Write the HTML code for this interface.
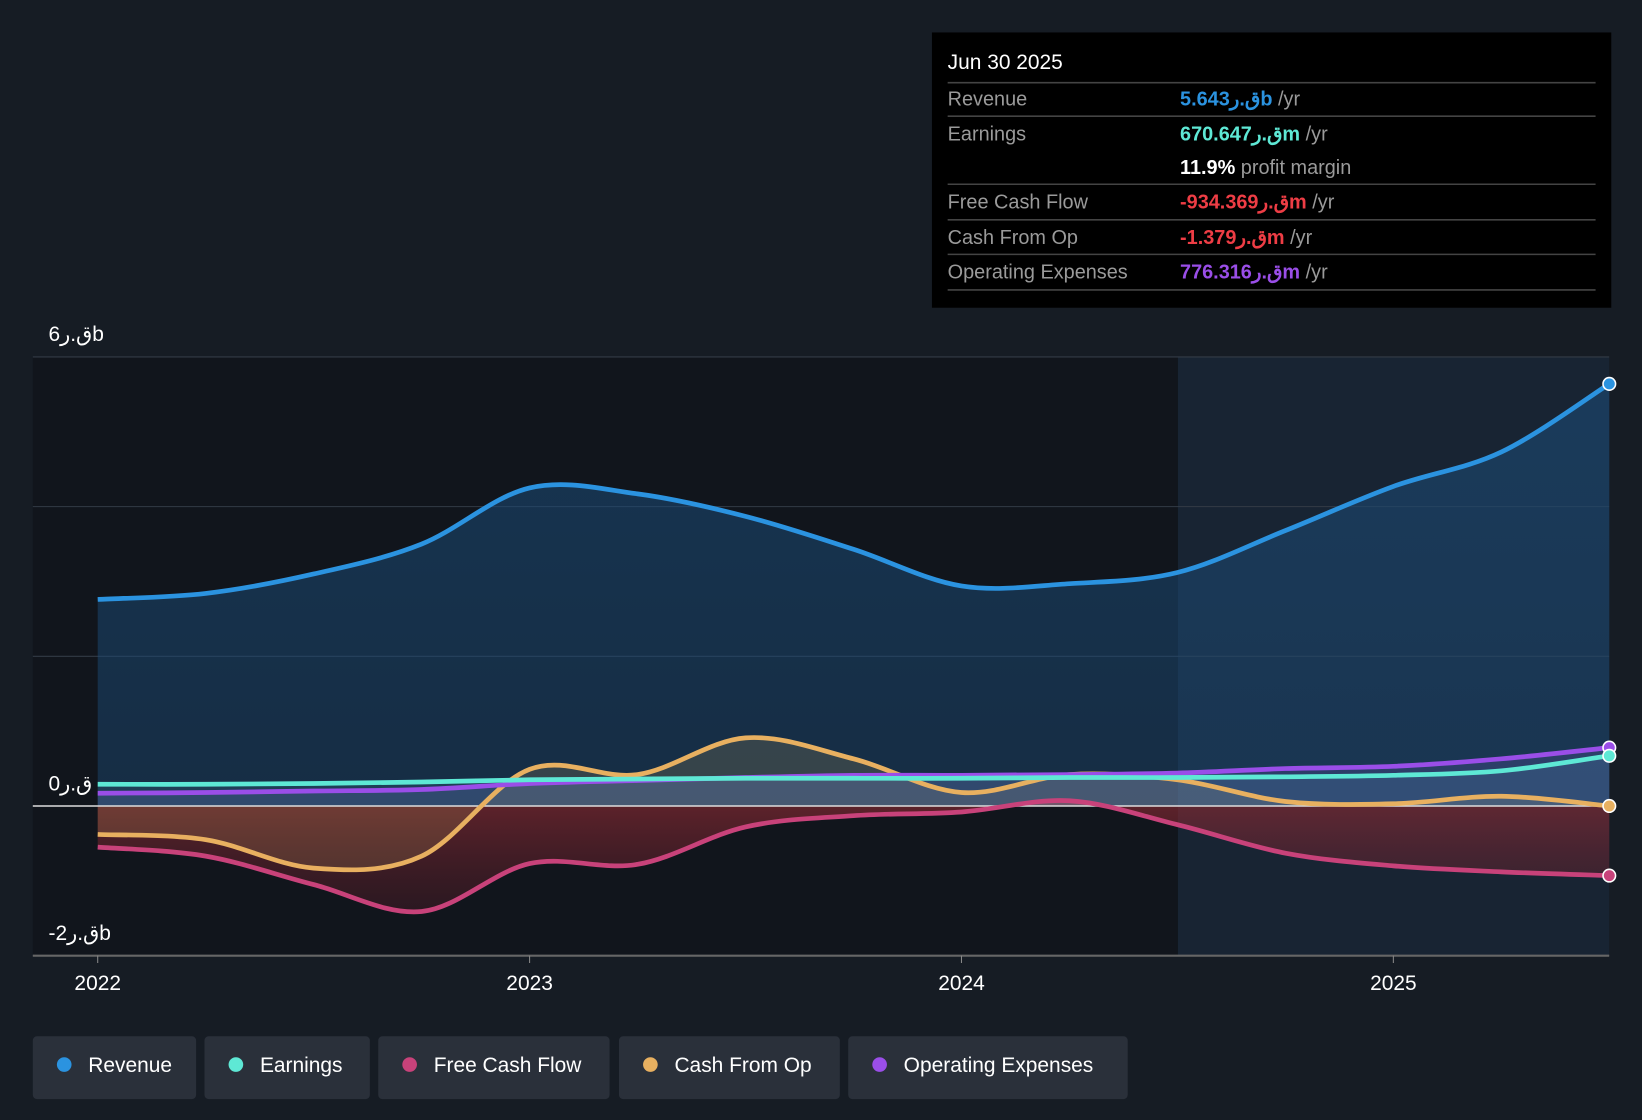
<!DOCTYPE html>
<html><head><meta charset="utf-8"><style>
html,body{margin:0;padding:0;background:#161c24;}
svg{display:block;font-family:"Liberation Sans","Noto Sans CJK SC",sans-serif;}
</style></head><body>
<svg id="c" width="1642" height="1120" viewBox="0 0 1568 1070">
<defs>
<linearGradient id="revg" x1="0" y1="0" x2="0" y2="1"><stop offset="0" stop-color="#1b4a75" stop-opacity="0.6"/><stop offset="1" stop-color="#1b4a75" stop-opacity="0.45"/></linearGradient>
<linearGradient id="negg" x1="0" y1="0" x2="0" y2="1"><stop offset="0" stop-color="#8a2a33" stop-opacity="0.65"/><stop offset="1" stop-color="#5a1e2a" stop-opacity="0.35"/></linearGradient>
</defs>
<rect width="1568" height="1070" fill="#161c24"/>
<rect x="31" y="341" width="1094" height="572" fill="#11151c"/>
<rect x="1125" y="341" width="412" height="572" fill="#182433"/>
<g id="grid"></g>
<g id="areas"></g>
<g id="lines"></g>
<g id="axes"></g>
<g>
<rect x="890" y="31" width="649" height="263" fill="#000"/>
<text x="905" y="66" fill="#fff" font-size="20">Jun 30 2025</text>
<g stroke="#444" stroke-width="1.5">
<line x1="905" y1="79" x2="1524" y2="79"/><line x1="905" y1="111" x2="1524" y2="111"/><line x1="905" y1="176" x2="1524" y2="176"/><line x1="905" y1="210" x2="1524" y2="210"/><line x1="905" y1="243" x2="1524" y2="243"/><line x1="905" y1="277" x2="1524" y2="277"/></g>
<g font-size="19" fill="#9a9a9a">
<text x="905" y="101">Revenue</text><text x="905" y="134">Earnings</text><text x="905" y="199">Free Cash Flow</text><text x="905" y="233">Cash From Op</text><text x="905" y="266">Operating Expenses</text>
<text x="1127" y="101"><tspan fill="#2b93e0" font-weight="bold">5.643ق.رb</tspan> /yr</text>
<text x="1127" y="134"><tspan fill="#5ee8d5" font-weight="bold">670.647ق.رm</tspan> /yr</text>
<text x="1127" y="166"><tspan fill="#fff" font-weight="bold">11.9%</tspan> profit margin</text>
<text x="1127" y="199"><tspan fill="#ee3d45" font-weight="bold">-934.369ق.رm</tspan> /yr</text>
<text x="1127" y="233"><tspan fill="#ee3d45" font-weight="bold">-1.379ق.رm</tspan> /yr</text>
<text x="1127" y="266"><tspan fill="#9a4ee8" font-weight="bold">776.316ق.رm</tspan> /yr</text>
</g></g>
<g id="legend" font-size="20" fill="#fff"></g>
</svg>
<script>
const times=[2022,2022.25,2022.5,2022.75,2023,2023.25,2023.5,2023.75,2024,2024.25,2024.5,2024.75,2025,2025.25,2025.5];
const revenue=[2.76,2.84,3.1,3.5,4.25,4.17,3.87,3.43,2.94,2.97,3.12,3.68,4.27,4.73,5.64];
const earnings=[0.29,0.29,0.3,0.32,0.35,0.36,0.37,0.37,0.37,0.38,0.38,0.39,0.41,0.47,0.67];
const fcf=[-0.55,-0.67,-1.05,-1.41,-0.77,-0.78,-0.28,-0.13,-0.08,0.07,-0.25,-0.63,-0.8,-0.88,-0.93];
const cfo=[-0.38,-0.45,-0.83,-0.67,0.49,0.42,0.91,0.63,0.18,0.42,0.35,0.06,0.03,0.13,0.0];
const opex=[0.17,0.18,0.2,0.22,0.3,0.34,0.38,0.41,0.41,0.42,0.44,0.5,0.53,0.63,0.78];
const yTicks=[6,4,2,0,-2];
const yLabels={"6":"6ق.رb","0":"0ق.ر","-2":"-2ق.رb"};
const xTicks=[2022,2023,2024,2025];
const X=t=>93+(t-2022)*412.6;
const Y=v=>770-v*71.5;
const NS="http://www.w3.org/2000/svg";
function el(tag,attrs,parent){const e=document.createElementNS(NS,tag);for(const k in attrs)e.setAttribute(k,attrs[k]);parent.appendChild(e);return e;}
function path(vals){const p=vals.map((v,i)=>[X(times[i]),Y(v)]);let d="M"+p[0][0]+","+p[0][1];
for(let i=0;i<p.length-1;i++){const p0=p[Math.max(0,i-1)],p1=p[i],p2=p[i+1],p3=p[Math.min(p.length-1,i+2)];
const c1x=p1[0]+(p2[0]-p0[0])/6,c1y=p1[1]+(p2[1]-p0[1])/6,c2x=p2[0]-(p3[0]-p1[0])/6,c2y=p2[1]-(p3[1]-p1[1])/6;
d+=" C"+c1x+","+c1y+" "+c2x+","+c2y+" "+p2[0]+","+p2[1];}return d;}
const grid=document.getElementById('grid'),areas=document.getElementById('areas'),lines=document.getElementById('lines'),axes=document.getElementById('axes');
yTicks.forEach(v=>{const g=el('line',{x1:31,x2:1537,y1:Y(v),y2:Y(v),stroke:v===0?'#ddd':'#333b46','stroke-width':v===0?1.5:1},v===0?lines:grid);


const lab=yLabels[String(v)];
if(lab!==undefined){const t=el('text',{x:46,y:Y(v)-15,fill:'#fff','font-size':20},axes);t.textContent=lab;

}});
el('line',{x1:31,x2:1537,y1:913,y2:913,stroke:'#666','stroke-width':2},axes);
xTicks.forEach(t=>{el('line',{x1:X(t),x2:X(t),y1:913,y2:920,stroke:'#888'},axes);
const tx=el('text',{x:X(t),y:946,fill:'#fff','font-size':20,'text-anchor':'middle'},axes);tx.textContent=t;

});
const x0=X(times[0]),x1=X(times[times.length-1]),z=Y(0);
const series=[
{n:'revenue',v:revenue,c:'#2b93e0',fill:'url(#revg)'},
{n:'free-cash-flow',v:fcf,c:'#c8427a',fill:'url(#negg)'},
{n:'cash-from-op',v:cfo,c:'#e8b060',fill:'rgba(200,170,100,0.18)'},
{n:'opex',v:opex,c:'#9a4ee8',fill:'rgba(120,100,200,0.2)'},
{n:'earnings',v:earnings,c:'#5ee8d5',fill:'rgba(100,200,220,0.12)'}];
series.forEach(s=>{const d=path(s.v);
const a=el('path',{d:d+" L"+x1+","+z+" L"+x0+","+z+" Z",fill:s.fill},areas);


const l=el('path',{d:d,fill:'none',stroke:s.c,'stroke-width':4.5},lines);


const c=el('circle',{cx:x1,cy:Y(s.v[s.v.length-1]),r:6,fill:s.c,stroke:'#fff','stroke-width':1.5},lines);

});
const leg=[['Revenue','#2b93e0',31,156],['Earnings','#5ee8d5',195,158],['Free Cash Flow','#c8427a',361,221],['Cash From Op','#e8b060',591,211],['Operating Expenses','#9a4ee8',810,267]];
const lg=document.getElementById('legend');
leg.forEach(L=>{const g=el('g',{},lg);


el('rect',{x:L[2],y:990,width:L[3],height:60,rx:4,fill:'#2a303a'},g);
el('circle',{cx:L[2]+30,cy:1017,r:7,fill:L[1]},g);
const t=el('text',{x:L[2]+53,y:1024},g);t.textContent=L[0];});
</script>
</body></html>
